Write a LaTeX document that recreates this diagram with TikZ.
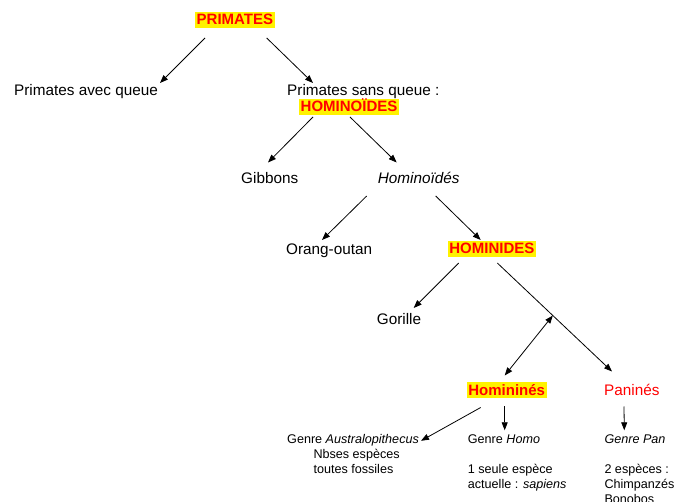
\documentclass[tikz,border=0pt]{standalone}
\usepackage{fontspec}
\setmainfont{Liberation Sans}
\usetikzlibrary{arrows.meta,calc}
\begin{document}
\begin{tikzpicture}[x=1pt, y=-1pt,
  every node/.style={inner sep=0pt, anchor=base west, font=\fontsize{15.3}{18}\selectfont},
  titre/.style={fill=yellow, text=red, inner xsep=1.5pt, font=\fontsize{15}{18}\selectfont\bfseries, text height=13pt, text depth=3pt},
  petit/.style={font=\fontsize{12.6}{15}\selectfont, align=left},
  fl/.style={-{Triangle[length=8pt,width=6pt]}, line width=0.8pt},
  dfl/.style={{Triangle[length=8pt,width=6pt]}-{Triangle[length=8pt,width=6pt]}, line width=0.8pt}]
  \clip (0,0) rectangle (689,502);
  \node[titre] (prim) at (195,25) {PRIMATES};
  \node (avec) at (14,96) {Primates avec queue};
  \node (sans) at (287,96) {Primates sans queue :};
  \node[titre] (hoides) at (299,112) {HOMINOÏDES};
  \node (gib) at (241,184) {Gibbons};
  \node (hoid) at (377.7,184) {\itshape Hominoïdés};
  \node (orang) at (286,255) {Orang-outan};
  \node[titre] (hides) at (447.7,254) {HOMINIDES};
  \node (gor) at (376.7,325) {Gorille};
  \node[titre] (hines) at (466.7,395.5) {Homininés};
  \node[text=red] (panines) at (604,395.5) {Paninés};
  \node[petit] (austr) at (287,443.3) {Genre \textit{Australopithecus}};
  \node[petit] (austrx) at (313.3,473.3) {Nbses espèces\\toutes fossiles};
  \node[petit] (homo) at (467.7,443.3) {Genre \textit{Homo}};
  \node[petit] (homox) at (467.7,488.3) {1 seule espèce\\actuelle : \textit{sapiens}};
  \node[petit] (pan) at (604.3,443.3) {\itshape Genre Pan};
  \node[petit] (panx) at (604.3,503.3) {2 espèces :\\Chimpanzés\\Bonobos};
  \draw[fl] ($(prim.base west)+(10,13)$) -- ($(avec.base west)+(146,-13)$);
  \draw[fl] ($(prim.base west)+(71.7,13)$) -- ($(sans.base west)+(26,-13)$);
  \draw[fl] ($(hoides.base west)+(14,5)$) -- ($(gib.base west)+(27,-21.5)$);
  \draw[fl] ($(hoides.base west)+(51,5)$) -- ($(hoid.base west)+(19,-21.5)$);
  \draw[fl] ($(hoid.base west)+(-11,12)$) -- ($(orang.base west)+(36,-15)$);
  \draw[fl] ($(hoid.base west)+(58,12)$) -- ($(hides.base west)+(33,-14)$);
  \draw[fl] ($(hides.base west)+(11,9)$) -- ($(gor.base west)+(37,-17)$);
  \draw[fl] ($(hides.base west)+(49.6,9)$) -- coordinate[pos=0.484] (fourche) ($(panines.base west)+(8,-24)$);
  \draw[dfl] ($(hines.base west)+(38,-20)$) -- (fourche);
  \draw[fl] ($(hines.base west)+(14,12)$) -- ($(austr.base west)+(134,-2.5)$);
  \draw[fl] ($(hines.base west)+(38,11)$) -- ($(homo.base west)+(37,-13)$);
  \draw[fl] ($(panines.base west)+(20,11)$) -- ($(pan.base west)+(20,-13)$);
\end{tikzpicture}
\end{document}
